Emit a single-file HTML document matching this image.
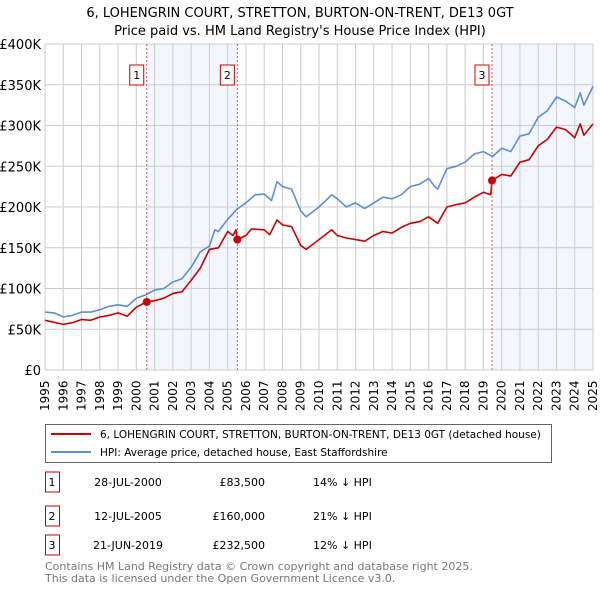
<!DOCTYPE html>
<html><head><meta charset="utf-8"><style>
body{margin:0;background:#fff;font-family:"Liberation Sans","DejaVu Sans",sans-serif;}
svg text{font-family:"DejaVu Sans","Liberation Sans",sans-serif;}
</style></head><body>
<svg id="chart" width="600" height="590" viewBox="0 0 600 590" xmlns="http://www.w3.org/2000/svg">
<text x="300" y="17" text-anchor="middle" font-size="13">6, LOHENGRIN COURT, STRETTON, BURTON-ON-TRENT, DE13 0GT</text>
<text x="300" y="35" text-anchor="middle" font-size="13">Price paid vs. HM Land Registry's House Price Index (HPI)</text>
<g id="plot"></g>
<g>
<rect x="45.5" y="424.5" width="506" height="38" fill="#fff" stroke="#666"/>
<line x1="51" y1="434" x2="91" y2="434" stroke="#cc0000" stroke-width="2"/>
<text x="100" y="438" font-size="10.5">6, LOHENGRIN COURT, STRETTON, BURTON-ON-TRENT, DE13 0GT (detached house)</text>
<line x1="51" y1="452" x2="91" y2="452" stroke="#5b8fd4" stroke-width="2"/>
<text x="100" y="456" font-size="10.5">HPI: Average price, detached house, East Staffordshire</text>
</g>
<g id="table"></g>
<text x="45" y="570" font-size="11" fill="#777">Contains HM Land Registry data © Crown copyright and database right 2025.</text>
<text x="45" y="582" font-size="11" fill="#777">This data is licensed under the Open Government Licence v3.0.</text>
</svg>
<script>
const hpiYears=[1995,1995.5,1996,1996.5,1997,1997.5,1998,1998.5,1999,1999.5,2000,2000.5,2001,2001.5,2002,2002.5,2003,2003.5,2004,2004.3,2004.5,2005,2005.5,2006,2006.5,2007,2007.4,2007.7,2008,2008.5,2009,2009.3,2010,2010.7,2011,2011.5,2012,2012.5,2013,2013.5,2014,2014.5,2015,2015.5,2016,2016.3,2016.5,2017,2017.5,2018,2018.5,2019,2019.5,2020,2020.5,2021,2021.5,2022,2022.5,2023,2023.5,2024,2024.3,2024.5,2025];
const hpiValues=[71,70,65,67,71,71,74,78,80,78,88,92,98,100,108,112,126,145,152,172,170,185,197,205,215,216,208,231,225,222,195,188,200,215,210,200,205,198,205,212,210,215,225,228,235,226,222,247,250,255,265,268,262,272,268,287,290,310,318,335,330,322,340,325,348];
const ppYears=[1995,1996,1996.5,1997,1997.5,1998,1998.5,1999,1999.5,2000,2000.57,2001,2001.5,2002,2002.5,2003,2003.5,2004,2004.5,2005,2005.3,2005.45,2005.53,2006,2006.3,2007,2007.3,2007.7,2008,2008.5,2009,2009.3,2010,2010.7,2011,2011.5,2012,2012.5,2013,2013.5,2014,2014.5,2015,2015.5,2016,2016.5,2017,2017.5,2018,2018.5,2019,2019.4,2019.47,2020,2020.5,2021,2021.5,2022,2022.5,2023,2023.5,2024,2024.3,2024.5,2025];
const ppValues=[61,56,58,62,61,65,67,70,66,77,83.5,85,88,94,96,110,125,148,150,170,165,172,160,165,173,172,166,184,178,176,153,148,160,172,165,162,160,158,165,170,168,175,180,182,188,180,200,203,205,212,218,215,232.5,240,238,255,258,275,283,298,295,285,302,288,302];
const saleYears=[2000.57,2005.53,2019.47];
const saleValues=[83.5,160,232.5];
const saleLabels=["1","2","3"];
const saleDates=["28-JUL-2000","12-JUL-2005","21-JUN-2019"];
const salePrices=["£83,500","£160,000","£232,500"];
const saleDiffs=["14% ↓ HPI","21% ↓ HPI","12% ↓ HPI"];
const yTicks=[0,50,100,150,200,250,300,350,400];
const yTickLabels=["£0","£50K","£100K","£150K","£200K","£250K","£300K","£350K","£400K"];
const xTicks=[1995,1996,1997,1998,1999,2000,2001,2002,2003,2004,2005,2006,2007,2008,2009,2010,2011,2012,2013,2014,2015,2016,2017,2018,2019,2020,2021,2022,2023,2024,2025];

const X0=45,X1=593,Y0=370,Y1=44;
const xs=y=>X0+(y-1995)/30*(X1-X0);
const ys=v=>Y0-v/400*(Y0-Y1);
const NS="http://www.w3.org/2000/svg";
const plot=document.getElementById('plot');
function mk(tag,attrs,parent){const e=document.createElementNS(NS,tag);for(const k in attrs)e.setAttribute(k,attrs[k]);(parent||plot).appendChild(e);return e;}

let s1=mk('rect',{x:xs(saleYears[0]),y:Y1,width:xs(saleYears[1])-xs(saleYears[0]),height:Y0-Y1,fill:'#eef3fc',opacity:0.7});


let s2=mk('rect',{x:xs(saleYears[2]),y:Y1,width:X1-xs(saleYears[2]),height:Y0-Y1,fill:'#eef3fc',opacity:0.7});



yTicks.forEach((t,i)=>{
  const l=mk('line',{x1:X0,x2:X1,y1:ys(t),y2:ys(t),stroke:'#ccc','stroke-width':1});
  
  
  const tx=mk('text',{x:X0-4,y:ys(t)+5,'text-anchor':'end','font-size':13});
  
  
  tx.textContent=yTickLabels[i];
});
xTicks.forEach(t=>{
  const l=mk('line',{x1:xs(t),x2:xs(t),y1:Y1,y2:Y0,stroke:'#ccc','stroke-width':1});
  
  
  const tx=mk('text',{transform:`translate(${xs(t)+4},${Y0+41}) rotate(-90)`,'font-size':12});
  
  
  tx.textContent=t;
});
function path(xa,va,color,name){
  const d=xa.map((x,i)=>(i?'L':'M')+xs(x).toFixed(1)+','+ys(va[i]).toFixed(1)).join('');
  const p=mk('path',{d:d,fill:'none',stroke:color,'stroke-width':1.6,'stroke-linejoin':'round'});
  
  
}
path(hpiYears,hpiValues,'#5b8fd4','hpi-line');
path(ppYears,ppValues,'#cc0000','price-paid-line');
saleYears.forEach((y,i)=>{
  const l=mk('line',{x1:xs(y),x2:xs(y),y1:Y1,y2:Y0,stroke:'#e05555','stroke-width':1,'stroke-dasharray':'2,2'});
  
  
  const c=mk('circle',{cx:xs(y),cy:ys(saleValues[i]),r:4,fill:'#cc0000'});
  
  
  const r=mk('rect',{x:xs(y)-17,y:65,width:14,height:20,fill:'#fff',stroke:'#cc0000'});
  
  
  const t=mk('text',{x:xs(y)-10,y:79,'text-anchor':'middle','font-size':11});
  
  
  t.textContent=saleLabels[i];
});
const tb=document.getElementById('table');
const rowsY=[482,516,545];
saleLabels.forEach((lab,i)=>{
  const cy=rowsY[i];
  const r=mk('rect',{x:45.5,y:cy-10,width:14,height:20,fill:'#fff',stroke:'#cc0000'},tb);
  
  
  const cells=[[52,lab,'middle'],[128,saleDates[i],'middle'],[265,salePrices[i],'end'],[313,saleDiffs[i],'start']];
  cells.forEach(c=>{
    const t=mk('text',{x:c[0],y:cy+4,'text-anchor':c[2],'font-size':11},tb);
    
    
    t.textContent=c[1];
  });
});
</script>
</body></html>
